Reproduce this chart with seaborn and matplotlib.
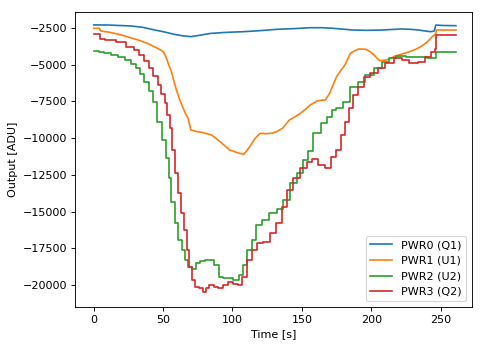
import matplotlib
matplotlib.use("Agg")
import matplotlib.pyplot as plt
import seaborn as sns
import pandas as pd

labels = ["PWR0 (Q1)", "PWR1 (U1)", "PWR2 (U2)", "PWR3 (Q2)"]
colors = ["#1f77b4", "#ff7f0e", "#2ca02c", "#d62728"]

t_pwr0 = [0, 10, 27, 35, 44, 50, 58, 64, 70, 76, 84, 95, 108, 120, 132, 145, 156, 165,
          172, 180, 186, 197, 208, 215, 222, 228, 234, 240, 243, 245.5, 246.5, 252, 261]
v_pwr0 = [-2290, -2295, -2364, -2450, -2636, -2750, -2931, -3030, -3090, -3000, -2870,
          -2800, -2750, -2680, -2590, -2540, -2480, -2480, -2520, -2580, -2636, -2660,
          -2636, -2600, -2568, -2590, -2636, -2720, -2750, -2700, -2300, -2330, -2343]

t_pwr1 = [0, 4, 5, 12, 20, 26, 32, 40, 46, 50, 52, 54, 56, 58, 60, 62, 64, 66, 68, 70,
          74, 78, 85, 91, 98, 105, 108, 110, 113, 116, 120, 124, 128, 132, 136, 141, 145,
          149, 153, 156, 161, 164, 167, 170, 173, 175, 178, 181, 185, 188, 191, 196, 199,
          202, 206, 211, 214, 218, 224, 228, 232, 236, 240, 244, 246.5, 247, 254, 261]
v_pwr1 = [-2523, -2523, -2704, -2800, -2977, -3150, -3317, -3600, -3885, -4100, -4453,
          -5000, -5475, -6200, -6837, -7400, -7857, -8300, -8649, -9445, -9550, -9605,
          -9786, -10240, -10807, -11032, -11100, -10900, -10500, -10050, -9670, -9700,
          -9670, -9550, -9330, -8764, -8550, -8308, -8000, -7743, -7471, -7420, -7403,
          -6946, -6265, -5816, -5400, -5019, -4223, -4050, -3930, -3950, -4100, -4338,
          -4725, -4679, -4550, -4384, -4223, -4100, -3950, -3750, -3480, -3090, -2900,
          -2636, -2636, -2640]

t_pwr2 = [0, 3, 4.5, 10, 15, 20, 25, 29, 32, 35, 38, 41, 44, 47.5, 50.5, 53.5, 55, 57,
          59.5, 62, 64.5, 67, 69, 72, 75, 78, 82, 85, 88.6, 92, 95, 98, 103, 106.6, 109,
          112.6, 115, 118.6, 123.4, 129.4, 134.2, 139, 143.8, 148.6, 153.5, 156, 160.7,
          166.6, 170.2, 173.1, 176.5, 182.5, 187.3, 193.3, 198.1, 205.3, 210.1, 214.9,
          220.9, 229.3, 236.5, 243.7, 246.5, 247, 254, 261]
v_pwr2 = [-4066, -4066, -4157, -4200, -4338, -4450, -4679, -4950, -5245, -5650, -6154,
          -6800, -7518, -8880, -10126, -11372, -12713, -14348, -15778, -16935, -17616,
          -18297, -18753, -18900, -18500, -18365, -18300, -18297, -18637, -19433, -19500,
          -19546, -19659, -19319, -18637, -17616, -16935, -15914, -15573, -15118, -14845,
          -14211, -13074, -12394, -11488, -10900, -9670, -8989, -8540, -8083, -7968,
          -7518, -6497, -6154, -5700, -5245, -4790, -4563, -4384, -4453, -4497, -4563,
          -4560, -4112, -4112, -4115]

t_pwr3 = [0, 4, 4.5, 12, 20, 27, 31, 34.3, 38, 41.5, 44.5, 47.5, 50, 52.3, 54, 55.9,
          57.1, 59.5, 61.9, 64.4, 66, 68, 70, 71.6, 74, 77.5, 80, 82, 84.7, 88, 91, 95,
          98.2, 102, 105.4, 109, 112.6, 116.2, 119.8, 124.6, 129.4, 133, 137.8, 141.4,
          146.3, 151, 155.8, 159.4, 164.3, 169, 172.6, 176.5, 180.1, 182.5, 184.9, 188.5,
          192.1, 196.9, 201.7, 207.7, 212.5, 219.7, 224.5, 230.5, 236.5, 241.3, 244.9,
          246.5, 247, 254, 261]
v_pwr3 = [-2931, -2931, -3249, -3300, -3431, -3772, -4000, -4338, -4750, -5245, -5800,
          -6381, -7000, -7627, -8400, -9330, -10807, -12396, -13758, -15120, -16254,
          -17616, -18753, -19659, -20113, -20226, -20453, -20200, -20000, -20150, -20224,
          -20000, -19774, -19900, -20000, -19433, -18297, -17616, -17161, -17048, -16480,
          -15798, -14668, -13531, -12734, -12053, -11603, -11440, -11828, -12053, -11263,
          -10807, -9786, -8880, -7968, -7062, -6497, -5816, -5584, -5245, -4904, -4563,
          -4679, -4904, -4790, -4453, -4112, -3900, -2977, -2977, -2980]

series_t = [t_pwr0, t_pwr1, t_pwr2, t_pwr3]
series_v = [v_pwr0, v_pwr1, v_pwr2, v_pwr3]
styles = ["default", "default", "steps-mid", "steps-mid"]

fig = plt.figure(figsize=(483 / 80, 347 / 80), dpi=80)
ax = fig.add_axes([75 / 483, 1 - 307 / 347, (472 - 75) / 483, (307 - 12) / 347])

for lab, col, t, v, ds in zip(labels, colors, series_t, series_v, styles):
    d = pd.DataFrame({"Time": t, "Output": v})
    sns.lineplot(data=d, x="Time", y="Output", color=col, label=lab,
                 linewidth=1.5, ax=ax, estimator=None, sort=False, drawstyle=ds)

ax.set_xlim(-13.5, 272.6)
ax.set_ylim(-21498, -1411)
ax.set_xticks([0, 50, 100, 150, 200, 250])
ax.set_yticks([-20000, -17500, -15000, -12500, -10000, -7500, -5000, -2500])
ax.set_xlabel("Time [s]")
ax.set_ylabel("Output [ADU]")
ax.legend(loc="lower right")

fig.savefig("out.png", dpi=80)
